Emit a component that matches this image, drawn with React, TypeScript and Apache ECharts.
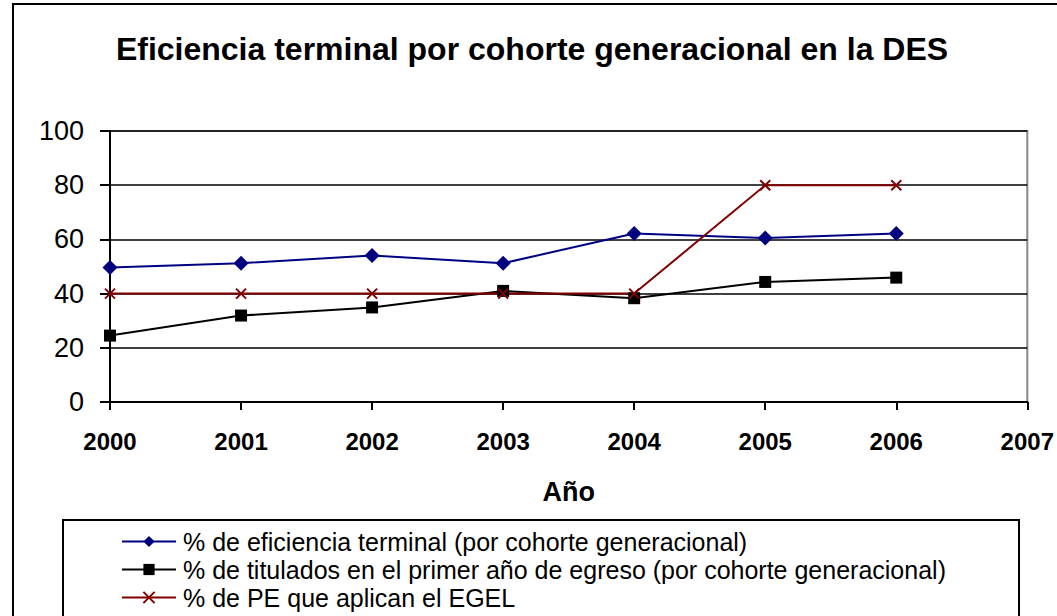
import React, { useEffect, useRef } from "react";
import * as echarts from "echarts";

const years = ["2000", "2001", "2002", "2003", "2004", "2005", "2006", "2007"];
const eficiencia = [49.6, 51.2, 54.1, 51.2, 62.2, 60.5, 62.2];
const titulados = [24.5, 31.9, 34.9, 41.0, 38.3, 44.3, 45.9];
const egel = [40, 40, 40, 40, 40, 80, 80];
const seriesNames = [
  "% de eficiencia terminal (por cohorte generacional)",
  "% de titulados en el primer año de egreso (por cohorte generacional)",
  "% de PE que aplican el EGEL",
];
const yTicks = { min: 0, max: 100, interval: 20 };

const FONT = "'Liberation Sans', Arial, sans-serif";
const CROSS = "path://M0,0L10,10M10,0L0,10";

export default function App() {
  const ref = useRef<HTMLDivElement>(null);
  useEffect(() => {
    if (!ref.current) return;
    const chart = echarts.init(ref.current, null, { renderer: "svg" });
    chart.setOption({
      animation: false,
      backgroundColor: "#fff",
      textStyle: { fontFamily: FONT },
      title: {
        text: "Eficiencia terminal por cohorte generacional en la DES",
        left: 532,
        textAlign: "center",
        top: 33,
        padding: 0,
        textStyle: { fontFamily: FONT, fontSize: 32, fontWeight: "bold", color: "#000" },
      },
      graphic: [
        {
          type: "rect",
          shape: { x: 13, y: 4, width: 1100, height: 700 },
          style: { fill: "none", stroke: "#000", lineWidth: 2 },
          z: -1,
        },
        {
          type: "rect",
          shape: { x: 63, y: 520, width: 956, height: 120 },
          style: { fill: "none", stroke: "#000", lineWidth: 2 },
          z: -1,
        },
      ],
      grid: {
        left: 110,
        right: 26,
        top: 131,
        bottom: 214,
        show: true,
        borderColor: "#888",
        borderWidth: 2,
        containLabel: false,
      },
      legend: {
        orient: "vertical",
        left: 121,
        top: 529,
        itemWidth: 54,
        itemHeight: 14,
        itemGap: 3,
        textStyle: {
          fontFamily: FONT,
          fontSize: 25,
          lineHeight: 25,
          color: "#000",
          padding: [0, 0, 0, 2],
        },
        padding: 0,
        data: seriesNames,
      },
      xAxis: {
        type: "category",
        boundaryGap: false,
        data: years,
        axisLine: { lineStyle: { color: "#000", width: 2 } },
        axisTick: { show: true, length: 8, lineStyle: { color: "#000", width: 2 }, alignWithLabel: true },
        axisLabel: { fontFamily: FONT, fontSize: 24, fontWeight: "bold", color: "#000", margin: 27 },
        splitLine: { show: false },
        name: "Año",
        nameLocation: "middle",
        nameGap: 76,
        nameTextStyle: { fontFamily: FONT, fontSize: 27, fontWeight: "bold", color: "#000" },
      },
      yAxis: {
        type: "value",
        min: yTicks.min,
        max: yTicks.max,
        interval: yTicks.interval,
        axisLine: { show: true, lineStyle: { color: "#000", width: 2 } },
        axisTick: { show: true, length: 10, lineStyle: { color: "#000", width: 2 } },
        axisLabel: { fontFamily: FONT, fontSize: 27, color: "#000", margin: 26 },
        splitLine: { show: true, lineStyle: { color: "#000", width: 1.5 } },
      },
      series: [
        {
          name: seriesNames[0],
          type: "line",
          data: eficiencia,
          symbol: "diamond",
          symbolSize: 15,
          lineStyle: { color: "#000080", width: 2 },
          itemStyle: { color: "#000080" },
        },
        {
          name: seriesNames[1],
          type: "line",
          data: titulados,
          symbol: "rect",
          symbolSize: 12,
          lineStyle: { color: "#000", width: 2 },
          itemStyle: { color: "#000" },
        },
        {
          name: seriesNames[2],
          type: "line",
          data: egel,
          symbol: CROSS,
          symbolSize: 10,
          lineStyle: { color: "#800000", width: 2 },
          itemStyle: { color: "#800000", borderColor: "#800000", borderWidth: 2 },
        },
      ],
    });
    return () => chart.dispose();
  }, []);
  return (
    <div
      ref={ref}
      style={{ position: "absolute", left: 0, top: 0, width: 1057, height: 616 }}
    />
  );
}
